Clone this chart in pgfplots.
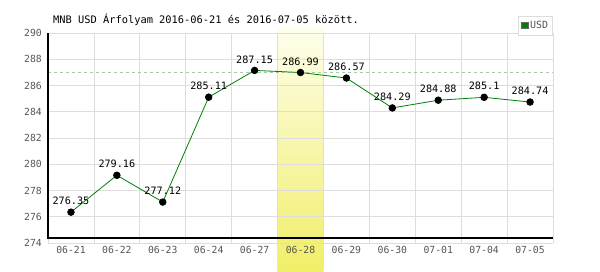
\documentclass[border=0pt]{standalone}
\usepackage{pgfplots}
\pgfplotsset{compat=1.18}
\usepackage{fontspec}
\setmainfont{DejaVu Sans Mono}
\definecolor{gridc}{HTML}{DDDDDD}
\definecolor{tickc}{HTML}{555555}
\definecolor{linec}{HTML}{008000}
\definecolor{dashc}{HTML}{A8C8A8}
\definecolor{bandtop}{HTML}{FEFEEC}
\definecolor{bandbot}{HTML}{F1EE68}
\pgfplotsset{layers/mylayers/.define layer set={axis background,axis grid,pre main,axis ticks,axis lines,axis tick labels,main,axis descriptions,axis foreground}{}}
\pgfplotstableread{
x y lab
0 276.35 276.35
1 279.16 279.16
2 277.12 277.12
3 285.11 285.11
4 287.15 287.15
5 286.99 286.99
6 286.57 286.57
7 284.29 284.29
8 284.88 284.88
9 285.1 285.1
10 284.74 284.74
}\usd
\begin{document}
\begin{tikzpicture}[x=1bp,y=1bp]
\path (0,0) rectangle (600,270);
\node[anchor=base west,font=\fontsize{10.4}{12}\selectfont,inner sep=0] at (53bp,246bp) {MNB USD Árfolyam 2016-06-21 és 2016-07-05 között.};
\begin{axis}[
  set layers=mylayers,
  at={(48bp,27bp)}, anchor=south west,
  scale only axis, width=505bp, height=210bp,
  xmin=-0.5, xmax=10.5, ymin=274, ymax=290,
  axis line style={draw=none},
  clip=false,
  xtick={0,...,10},
  xticklabels={06-21,06-22,06-23,06-24,06-27,06-28,06-29,06-30,07-01,07-04,07-05},
  minor xtick={-0.5,0.5,...,10.5},
  xminorgrids=true, ymajorgrids=true,
  ytick={274,276,...,290},
  grid style={draw=gridc, line width=0.8bp},
  minor grid style={draw=gridc, line width=0.8bp},
  major tick length=0pt, minor tick length=0pt,
  tick label style={font=\fontsize{9.8}{11}\selectfont, text=tickc},
  yticklabel style={xshift=-2.7bp},
  /pgf/number format/assume math mode=true,
  legend style={at={(rel axis cs:1,1)}, anchor=south east, yshift=-2.5bp, xshift=0bp,
    draw=gridc, line width=0.8bp, font=\fontsize{10}{11}\selectfont, text=tickc,
    inner xsep=2.5bp, inner ysep=3bp, row sep=0pt},
  legend image code/.code={\fill[linec, draw=black!60, line width=0.4bp] (0bp,-3bp) rectangle (6.5bp,3.5bp);},
]
\addplot[forget plot, on layer=pre main, draw=none, top color=bandtop, bottom color=bandbot]
  coordinates {(4.5,271.85) (5.5,271.85) (5.5,290.42) (4.5,290.42)} -- cycle;
\addplot[forget plot, dashc, line width=0.8bp, dash pattern=on 3bp off 3bp] coordinates {(-0.5,287) (10.5,287)};
\addplot[forget plot, black, line width=1.1bp] coordinates {(-0.5,290) (-0.5,274.38) (10.5,274.38)};
\addplot[linec, line width=0.8bp, mark=*, mark size=3.3bp,
  mark options={fill=black, draw=black},
  point meta=explicit symbolic,
  nodes near coords,
  nodes near coords style={font=\fontsize{10.2}{12}\selectfont, text=black, anchor=south, yshift=3.5bp}]
  table[x=x, y=y, meta=lab] {\usd};
\addlegendentry{USD}
\end{axis}
\end{tikzpicture}
\end{document}
